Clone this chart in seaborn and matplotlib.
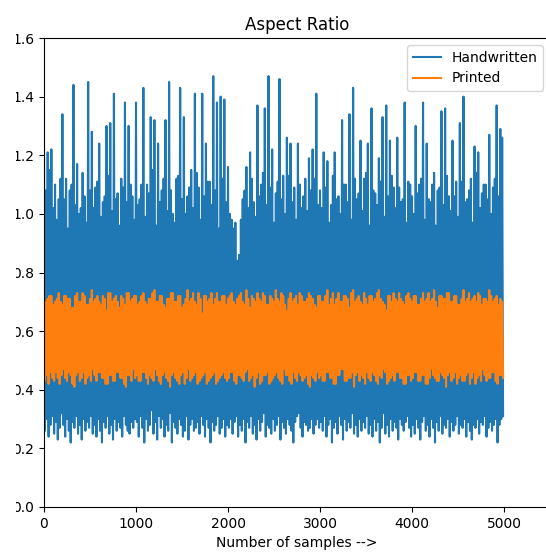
import numpy as np
import matplotlib
matplotlib.use("Agg")
import matplotlib.pyplot as plt
from matplotlib.patches import Rectangle
import seaborn as sns

# ---- data: one value every 10 samples, peaks and troughs alternate ----
hand_0k = [
    1.22, 0.26, 1.08, 0.30, 1.21, 0.24, 1.15, 0.28, 1.22, 0.31, 1.02, 0.25, 1.10, 0.29, 0.98, 0.23,
    1.05, 0.27, 1.12, 0.32, 1.34, 0.28, 1.05, 0.24, 1.12, 0.30, 0.95, 0.26, 1.08, 0.22, 1.10, 0.29,
    1.44, 0.27, 1.03, 0.31, 1.17, 0.25, 1.00, 0.28, 1.02, 0.23, 1.14, 0.30, 1.06, 0.26, 0.97, 0.29,
    1.45, 0.27, 1.08, 0.31, 1.28, 0.25, 1.02, 0.28, 1.09, 0.24, 1.11, 0.30, 1.24, 0.26, 0.99, 0.22,
    1.04, 0.29, 1.06, 0.27, 1.30, 0.31, 1.13, 0.25, 1.31, 0.28, 1.01, 0.23, 1.41, 0.30, 1.05, 0.26,
    1.07, 0.29, 0.96, 0.27, 1.12, 0.24, 1.09, 0.31, 1.38, 0.28, 1.04, 0.26, 1.30, 0.25, 1.10, 0.29,
    1.06, 0.27, 0.98, 0.30,
]
hand_1k = [
    1.38, 0.29, 1.03, 0.24, 1.05, 0.31, 1.10, 0.27, 1.43, 0.22, 0.99, 0.30, 1.10, 0.26, 1.07, 0.28,
    1.33, 0.33, 1.15, 0.25, 1.32, 0.29, 0.96, 0.23, 1.24, 0.31, 1.04, 0.27, 1.08, 0.30, 1.12, 0.24,
    1.32, 0.28, 1.01, 0.26, 1.45, 0.32, 1.08, 0.22, 1.00, 0.29, 0.97, 0.27, 1.12, 0.25, 1.13, 0.30,
    1.43, 0.28, 1.05, 0.24, 1.33, 0.26, 1.00, 0.31, 1.06, 0.23, 1.09, 0.28, 1.15, 0.30, 1.02, 0.26,
    1.41, 0.27, 1.14, 0.29, 1.09, 0.25, 0.98, 0.31, 1.41, 0.28, 1.06, 0.24, 1.24, 0.30, 1.11, 0.27,
    1.11, 0.22, 1.03, 0.29, 1.47, 0.26, 1.08, 0.28, 1.38, 0.31, 0.95, 0.25, 1.40, 0.27, 1.12, 0.30,
    1.39, 0.24, 1.04, 0.28,
]
hand_2k = [
    1.16, 0.27, 1.00, 0.30, 0.98, 0.25, 0.95, 0.29, 0.97, 0.31, 0.84, 0.24, 0.86, 0.28, 0.98, 0.26,
    1.05, 0.30, 1.08, 0.22, 1.16, 0.29, 1.02, 0.27, 1.21, 0.31, 1.12, 0.25, 1.04, 0.28, 0.99, 0.23,
    1.37, 0.30, 1.06, 0.26, 1.10, 0.29, 1.14, 0.32, 1.36, 0.24, 1.03, 0.28, 1.47, 0.27, 1.09, 0.25,
    1.22, 0.30, 0.97, 0.26, 1.07, 0.28, 1.11, 0.31, 1.46, 0.23, 1.05, 0.29, 1.13, 0.27, 1.00, 0.25,
    1.26, 0.30, 1.13, 0.28, 1.24, 0.26, 1.04, 0.22, 1.09, 0.29, 0.98, 0.31, 1.24, 0.32, 1.10, 0.27,
    1.02, 0.24, 1.06, 0.29, 1.12, 0.28, 1.01, 0.26, 1.19, 0.27, 1.08, 0.30, 1.22, 0.25, 1.12, 0.28,
    1.41, 0.30, 1.03, 0.27,
]
hand_3k = [
    1.08, 0.29, 1.02, 0.26, 1.21, 0.31, 1.09, 0.24, 1.18, 0.28, 0.97, 0.30, 1.03, 0.22, 1.13, 0.27,
    1.21, 0.29, 1.05, 0.25, 1.06, 0.31, 1.00, 0.28, 1.32, 0.23, 1.10, 0.30, 1.10, 0.26, 1.04, 0.29,
    1.34, 0.27, 0.98, 0.32, 1.43, 0.25, 1.12, 0.28, 1.05, 0.24, 1.07, 0.30, 1.25, 0.26, 1.01, 0.29,
    1.12, 0.27, 1.14, 0.31, 1.24, 0.25, 0.96, 0.28, 1.36, 0.24, 1.08, 0.30, 1.07, 0.26, 1.03, 0.29,
    1.19, 0.22, 1.11, 0.27, 1.33, 0.32, 0.99, 0.25, 1.37, 0.28, 1.06, 0.24, 1.25, 0.30, 1.13, 0.26,
    1.09, 0.29, 1.02, 0.27, 1.26, 0.23, 1.09, 0.30, 1.04, 0.28, 1.05, 0.26, 1.38, 0.29, 0.97, 0.31,
    1.11, 0.27, 1.10, 0.24,
]
hand_4k = [
    1.06, 0.28, 1.00, 0.25, 1.30, 0.30, 1.07, 0.27, 1.10, 0.23, 1.12, 0.29, 1.38, 0.31, 0.98, 0.26,
    1.24, 0.28, 1.05, 0.24, 1.04, 0.30, 1.10, 0.27, 1.14, 0.22, 0.96, 0.29, 1.08, 0.26, 1.09, 0.31,
    1.35, 0.25, 1.03, 0.28, 1.36, 0.27, 1.13, 0.30, 1.06, 0.24, 1.01, 0.29, 1.25, 0.26, 1.06, 0.28,
    1.11, 0.31, 0.99, 0.25, 1.31, 0.28, 1.11, 0.27, 1.40, 0.30, 1.04, 0.24, 1.05, 0.29, 1.08, 0.26,
    1.12, 0.23, 0.97, 0.28, 1.23, 0.27, 1.14, 0.30, 1.21, 0.25, 1.02, 0.29, 1.07, 0.28, 1.10, 0.31,
    1.10, 0.24, 1.05, 0.27, 1.27, 0.29, 1.00, 0.26, 1.09, 0.28, 1.12, 0.30, 1.37, 0.22, 1.06, 0.28,
    1.29, 0.30, 1.26, 0.31,
]
print_0k = [
    0.74, 0.43, 0.70, 0.45, 0.71, 0.42, 0.72, 0.46, 0.72, 0.44, 0.69, 0.43, 0.70, 0.46, 0.71, 0.44,
    0.73, 0.42, 0.70, 0.45, 0.69, 0.47, 0.72, 0.44, 0.72, 0.43, 0.71, 0.46, 0.71, 0.45, 0.68, 0.42,
    0.68, 0.41, 0.72, 0.45, 0.73, 0.46, 0.70, 0.43, 0.70, 0.44, 0.73, 0.46, 0.72, 0.42, 0.69, 0.44,
    0.69, 0.45, 0.71, 0.43, 0.74, 0.47, 0.70, 0.45, 0.71, 0.43, 0.72, 0.46, 0.70, 0.46, 0.69, 0.44,
    0.72, 0.44, 0.71, 0.42, 0.67, 0.42, 0.73, 0.45, 0.73, 0.45, 0.70, 0.43, 0.71, 0.43, 0.72, 0.46,
    0.70, 0.46, 0.68, 0.44, 0.72, 0.44, 0.71, 0.42, 0.69, 0.41, 0.73, 0.45, 0.73, 0.45, 0.70, 0.43,
    0.71, 0.47, 0.72, 0.44,
]
print_1k = [
    0.72, 0.45, 0.69, 0.43, 0.70, 0.43, 0.72, 0.46, 0.73, 0.46, 0.70, 0.44, 0.69, 0.42, 0.71, 0.45,
    0.71, 0.44, 0.73, 0.43, 0.74, 0.47, 0.70, 0.45, 0.70, 0.43, 0.72, 0.42, 0.72, 0.45, 0.69, 0.46,
    0.68, 0.44, 0.71, 0.43, 0.71, 0.41, 0.73, 0.45, 0.73, 0.46, 0.70, 0.44, 0.70, 0.43, 0.72, 0.42,
    0.72, 0.45, 0.68, 0.46, 0.69, 0.42, 0.71, 0.44, 0.74, 0.47, 0.70, 0.43, 0.71, 0.44, 0.73, 0.45,
    0.70, 0.46, 0.69, 0.42, 0.73, 0.43, 0.71, 0.44, 0.66, 0.45, 0.72, 0.46, 0.72, 0.42, 0.70, 0.43,
    0.71, 0.44, 0.73, 0.45, 0.69, 0.46, 0.71, 0.42, 0.73, 0.43, 0.70, 0.44, 0.70, 0.45, 0.72, 0.46,
    0.72, 0.44, 0.69, 0.43,
]
print_2k = [
    0.71, 0.44, 0.72, 0.46, 0.73, 0.46, 0.70, 0.43, 0.69, 0.42, 0.71, 0.45, 0.72, 0.45, 0.73, 0.44,
    0.70, 0.43, 0.69, 0.46, 0.74, 0.47, 0.71, 0.43, 0.68, 0.44, 0.72, 0.45, 0.71, 0.41, 0.70, 0.44,
    0.73, 0.46, 0.71, 0.42, 0.70, 0.43, 0.73, 0.45, 0.72, 0.45, 0.69, 0.46, 0.69, 0.42, 0.72, 0.43,
    0.71, 0.44, 0.70, 0.45, 0.74, 0.46, 0.71, 0.44, 0.70, 0.43, 0.73, 0.42, 0.72, 0.47, 0.69, 0.45,
    0.67, 0.45, 0.71, 0.43, 0.73, 0.42, 0.70, 0.46, 0.71, 0.44, 0.72, 0.43, 0.69, 0.46, 0.73, 0.45,
    0.72, 0.43, 0.70, 0.44, 0.70, 0.45, 0.71, 0.42, 0.73, 0.41, 0.72, 0.45, 0.71, 0.44, 0.69, 0.43,
    0.68, 0.46, 0.72, 0.44,
]
print_3k = [
    0.72, 0.45, 0.70, 0.43, 0.70, 0.43, 0.72, 0.46, 0.74, 0.46, 0.69, 0.44, 0.71, 0.44, 0.73, 0.42,
    0.69, 0.42, 0.71, 0.45, 0.73, 0.45, 0.70, 0.47, 0.70, 0.47, 0.72, 0.43, 0.72, 0.43, 0.71, 0.44,
    0.68, 0.44, 0.73, 0.46, 0.74, 0.41, 0.70, 0.45, 0.71, 0.46, 0.72, 0.43, 0.70, 0.45, 0.69, 0.44,
    0.73, 0.42, 0.71, 0.46, 0.69, 0.44, 0.72, 0.43, 0.72, 0.46, 0.70, 0.45, 0.71, 0.43, 0.73, 0.42,
    0.74, 0.45, 0.71, 0.44, 0.70, 0.47, 0.69, 0.46, 0.67, 0.42, 0.72, 0.43, 0.72, 0.44, 0.70, 0.45,
    0.73, 0.43, 0.71, 0.46, 0.70, 0.46, 0.73, 0.44, 0.71, 0.44, 0.70, 0.42, 0.69, 0.42, 0.72, 0.45,
    0.73, 0.45, 0.71, 0.43,
]
print_4k = [
    0.70, 0.44, 0.72, 0.46, 0.72, 0.46, 0.69, 0.43, 0.69, 0.43, 0.71, 0.45, 0.73, 0.45, 0.70, 0.42,
    0.71, 0.42, 0.73, 0.44, 0.70, 0.47, 0.71, 0.45, 0.74, 0.44, 0.70, 0.43, 0.68, 0.43, 0.72, 0.46,
    0.72, 0.45, 0.71, 0.44, 0.71, 0.41, 0.73, 0.45, 0.73, 0.46, 0.70, 0.43, 0.70, 0.44, 0.72, 0.46,
    0.72, 0.42, 0.69, 0.44, 0.69, 0.45, 0.71, 0.43, 0.74, 0.43, 0.70, 0.45, 0.71, 0.46, 0.73, 0.42,
    0.70, 0.44, 0.71, 0.46, 0.72, 0.42, 0.70, 0.44, 0.73, 0.45, 0.72, 0.43, 0.69, 0.47, 0.71, 0.45,
    0.71, 0.43, 0.70, 0.44, 0.74, 0.44, 0.72, 0.46, 0.70, 0.46, 0.71, 0.43, 0.72, 0.42, 0.69, 0.45,
    0.71, 0.45, 0.70, 0.44,
]
series_labels = ["Handwritten", "Printed"]
title_text = "Aspect Ratio"
xlabel_text = "Number of samples -->"
x_ticks = [0, 1000, 2000, 3000, 4000, 5000]
y_ticks = [0.0, 0.2, 0.4, 0.6, 0.8, 1.0, 1.2, 1.4, 1.6]

handwritten = np.concatenate([hand_0k, hand_1k, hand_2k, hand_3k, hand_4k])
printed = np.concatenate([print_0k, print_1k, print_2k, print_3k, print_4k])
samples = np.arange(len(handwritten)) * 10

fig = plt.figure(figsize=(5.46, 5.60), dpi=100)
ax = fig.add_axes([44 / 546, 53 / 560, 506 / 546, 469 / 560])

sns.lineplot(x=samples, y=handwritten, ax=ax, color="#1f77b4", linewidth=1.5,
             label=series_labels[0], sort=False, estimator=None)
sns.lineplot(x=samples, y=printed, ax=ax, color="#ff7f0e", linewidth=1.5,
             label=series_labels[1], sort=False, estimator=None)

ax.set_xlim(0, 5500)
ax.set_ylim(0.0, 1.6)
ax.set_xticks(x_ticks)
ax.set_yticks(y_ticks)
ax.set_yticklabels([f"{v:.1f}" for v in y_ticks])
ax.tick_params(labelsize=10)
ax.set_title(title_text, fontsize=12)
ax.set_xlabel(xlabel_text, fontsize=10)
ax.set_ylabel("")
ax.legend(loc="upper right", fontsize=10)

# the reference image is clipped on the left edge
fig.add_artist(Rectangle((0, 0), 15.5 / 546, 1, transform=fig.transFigure,
                         facecolor="white", edgecolor="none", zorder=10))

fig.savefig("out.png", dpi=100)
